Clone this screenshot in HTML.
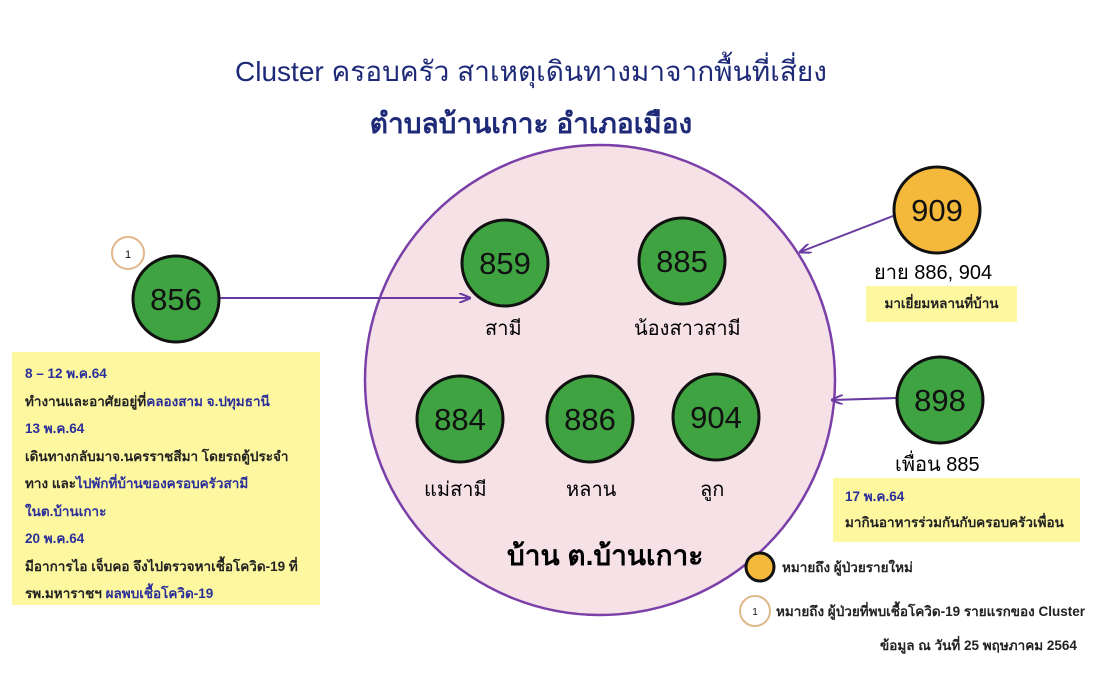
<!DOCTYPE html>
<html><head><meta charset="utf-8"><style>
body{margin:0;width:1102px;height:684px;background:#fff;position:relative;overflow:hidden;font-family:"Liberation Sans","DejaVu Sans",sans-serif}
.a{position:absolute;white-space:nowrap}
.box{position:absolute;background:#fdf7a0}
.sm{font-size:13.5px;font-weight:bold;color:#222;line-height:27.5px}
.b{color:#2b2f9a}
</style></head><body>
<svg width="1102" height="684" style="position:absolute;left:0;top:0">
<defs><marker id="ar" markerWidth="12" markerHeight="10" refX="11" refY="5" orient="auto" markerUnits="userSpaceOnUse"><path d="M0,0 L12,5 L0,10" fill="none" stroke="#6a3aa0" stroke-width="2"/></marker></defs>
<ellipse cx="600" cy="380" rx="235" ry="235" fill="#f6e1e6" stroke="#7a3fa8" stroke-width="2.5"/>
<line x1="219" y1="298" x2="470" y2="298" stroke="#6a3aa0" stroke-width="2" marker-end="url(#ar)"/>
<line x1="893" y1="216" x2="800" y2="252" stroke="#6a3aa0" stroke-width="2" marker-end="url(#ar)"/>
<line x1="896" y1="398" x2="832" y2="400" stroke="#6a3aa0" stroke-width="2" marker-end="url(#ar)"/>
<g stroke="#111" stroke-width="3" fill="#3fa342">
<circle cx="176" cy="299" r="43"/><circle cx="505" cy="263" r="43"/><circle cx="682" cy="261" r="43"/>
<circle cx="460" cy="419" r="43"/><circle cx="590" cy="419" r="43"/><circle cx="716" cy="417" r="43"/>
<circle cx="940" cy="400" r="43"/>
<circle cx="937" cy="210" r="43" fill="#f4b83a"/>
<circle cx="760" cy="567" r="14" fill="#f4b83a"/>
</g>
<circle cx="128" cy="253" r="16" fill="#fff" stroke="#e0b88a" stroke-width="2"/>
<circle cx="755" cy="611" r="15" fill="#fff" stroke="#e0b88a" stroke-width="2"/>
<g font-family="Liberation Sans,sans-serif" font-size="31" text-anchor="middle" fill="#111">
<text x="176" y="310">856</text><text x="505" y="274">859</text><text x="682" y="272">885</text>
<text x="460" y="430">884</text><text x="590" y="430">886</text><text x="716" y="428">904</text>
<text x="940" y="411">898</text><text x="937" y="221">909</text>
<text x="128" y="258" font-size="11">1</text><text x="755" y="615" font-size="10">1</text>
</g>
</svg>
<div class="a" style="left:0;width:1062px;text-align:center;top:50px;font-size:28px;color:#1e2a78">Cluster ครอบครัว สาเหตุเดินทางมาจากพื้นที่เสี่ยง</div>
<div class="a" style="left:0;width:1062px;text-align:center;top:102px;font-size:28px;font-weight:bold;color:#1e2a78">ตำบลบ้านเกาะ อำเภอเมือง</div>
<div class="a" style="left:485px;top:312px;font-size:20px">สามี</div>
<div class="a" style="left:634px;top:312px;font-size:20px">น้องสาวสามี</div>
<div class="a" style="left:424px;top:473px;font-size:20px">แม่สามี</div>
<div class="a" style="left:566px;top:473px;font-size:20px">หลาน</div>
<div class="a" style="left:700px;top:473px;font-size:20px">ลูก</div>
<div class="a" style="left:507px;top:534px;font-size:28px;font-weight:bold">บ้าน ต.บ้านเกาะ</div>
<div class="a" style="left:874px;top:256px;font-size:20px">ยาย 886, 904</div>
<div class="a" style="left:895px;top:448px;font-size:20px">เพื่อน 885</div>
<div class="box sm" style="left:866px;top:286px;width:151px;height:36px;line-height:36px;text-align:center">มาเยี่ยมหลานที่บ้าน</div>
<div class="box sm" style="left:833px;top:478px;width:247px;height:64px;padding:6px 0 0 12px;box-sizing:border-box;line-height:26px"><span class="b">17 พ.ค.64</span><br>มากินอาหารร่วมกันกับครอบครัวเพื่อน</div>
<div class="box sm" style="left:12px;top:352px;width:308px;height:253px;padding:8px 0 0 13px;box-sizing:border-box"><span class="b">8 – 12 พ.ค.64</span><br>ทำงานและอาศัยอยู่ที่<span class="b">คลองสาม จ.ปทุมธานี</span><br><span class="b">13 พ.ค.64</span><br>เดินทางกลับมาจ.นครราชสีมา โดยรถตู้ประจำ<br>ทาง และ<span class="b">ไปพักที่บ้านของครอบครัวสามี</span><br><span class="b">ในต.บ้านเกาะ</span><br><span class="b">20 พ.ค.64</span><br>มีอาการไอ  เจ็บคอ จึงไปตรวจหาเชื้อโควิด-19 ที่<br>รพ.มหาราชฯ <span class="b">ผลพบเชื้อโควิด-19</span></div>
<div class="a sm" style="left:782px;top:554px">หมายถึง ผู้ป่วยรายใหม่</div>
<div class="a sm" style="left:776px;top:598px">หมายถึง ผู้ป่วยที่พบเชื้อโควิด-19 รายแรกของ Cluster</div>
<div class="a sm" style="left:880px;top:632px">ข้อมูล ณ วันที่ 25 พฤษภาคม 2564</div>
</body></html>
